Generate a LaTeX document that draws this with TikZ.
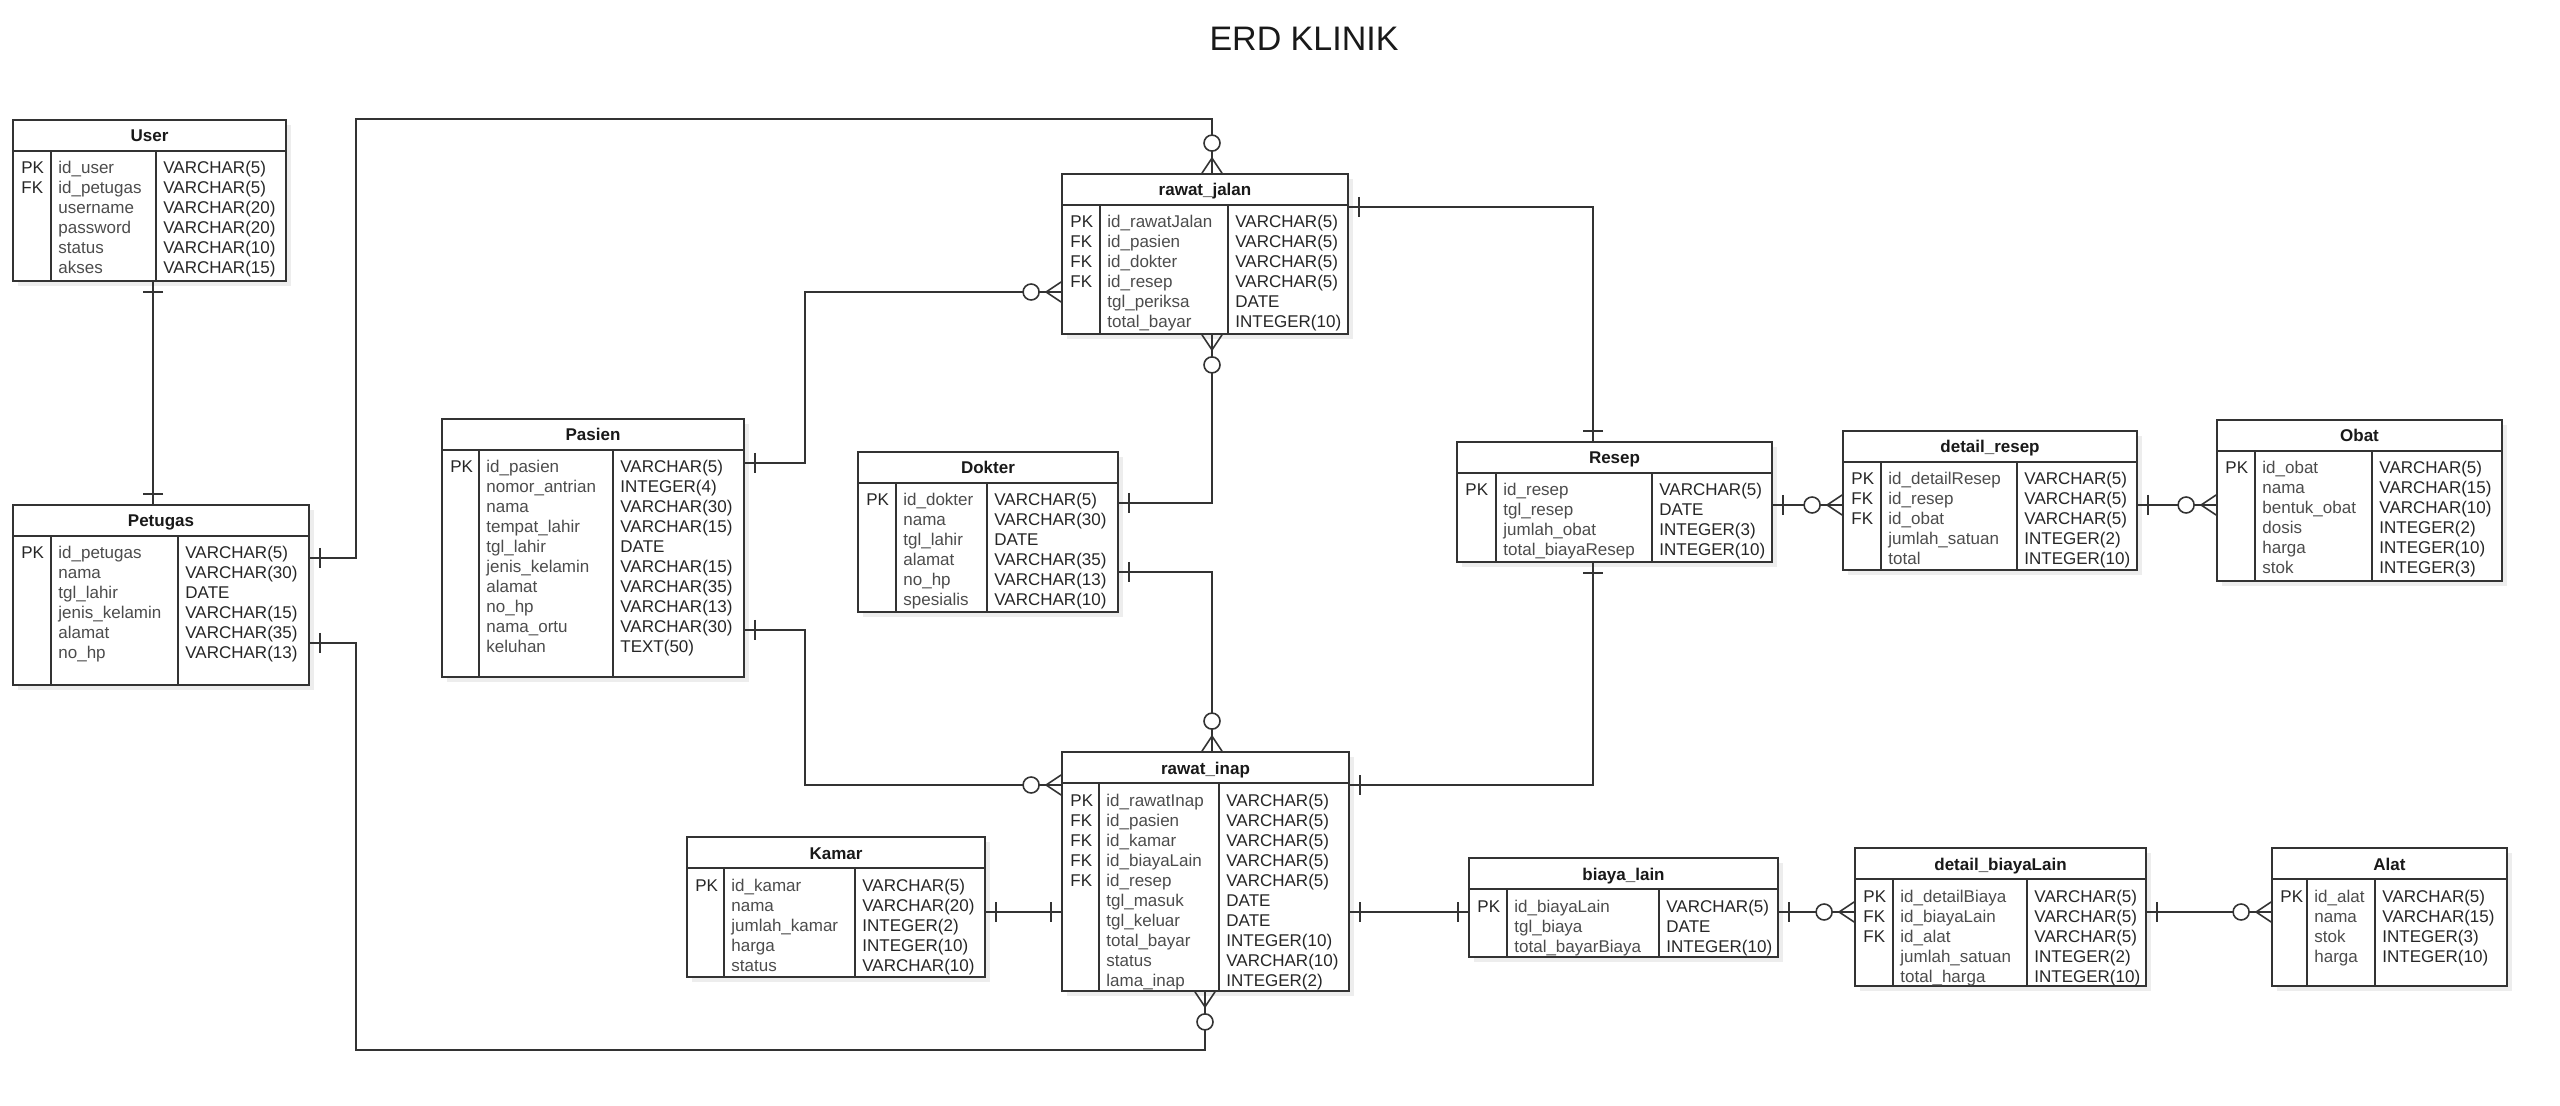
\documentclass[tikz,border=0pt]{standalone}
\usepackage{fontspec}
\setmainfont{Liberation Sans}
\usepackage{tikz}
\usetikzlibrary{fit,decorations.markings}
\definecolor{erdline}{rgb}{0.2,0.2,0.2}
\definecolor{erdtext}{rgb}{0.3,0.3,0.3}
\newcommand{\cellfont}{\fontsize{8.5}{10}\selectfont}

\tikzset{
  tbox/.style={draw=erdline, fill=white, line width=0.9pt, inner sep=0},
  tline/.style={draw=erdline, line width=0.9pt},
  tshadow/.style={fill=black!7},
  thead/.style={anchor=base, inner sep=0, font=\cellfont\bfseries, text=black!90},
  tkey/.style={anchor=base west, inner sep=0, font=\cellfont, text=black!85},
  tname/.style={anchor=base west, inner sep=0, font=\cellfont, text=erdtext},
  ttype/.style={anchor=base west, inner sep=0, font=\cellfont, text=black!85},
  relmark/.style={draw=erdline, line width=0.8pt},
  rel/.style={draw=erdline, line width=0.8pt},
  one start/.style={postaction={decorate, decoration={markings,
      mark=at position 0 with {\draw[relmark] (10,-10) -- (10,10);}}}},
  one end/.style={postaction={decorate, decoration={markings,
      mark=at position 1 with {\draw[relmark] (-10,-10) -- (-10,10);}}}},
  many end/.style={postaction={decorate, decoration={markings,
      mark=at position 1 with {\draw[relmark] (0,-10) -- (-15,0) -- (0,10) (-15,0) -- (0,0);
        \draw[relmark, fill=white] (-30,0) circle[radius=8];}}}},
}

% table: name, top left, bottom right, column lines, title, rows
\newcommand{\erdtable}[9]{%
  \fill[tshadow] (#2+5,#3+5) rectangle (#4+5,#5+5);
  \node[tbox, fit={(#2,#3) (#4,#5)}] (#1) {};
  \draw[tline] (#2,#3+31) -- (#4,#3+31);
  \draw[tline] (#6,#3+31) -- (#6,#5) (#7,#3+31) -- (#7,#5);
  \node[thead] (#1-title) at ({(#2+#4)/2},#3+22) {#8};
  \foreach \ky/\nm/\ty [count=\i from 0] in {#9}{
    \node[tkey] (#1-k\i) at (#2+8,#3+54+20*\i) {\ky};
    \node[tname] (#1-n\i) at (#6+7,#3+54+20*\i) {\nm};
    \node[ttype] (#1-t\i) at (#7+7,#3+54+20*\i) {\ty};
  }
}

\begin{document}
\begin{tikzpicture}[x=0.5pt,y=-0.5pt]
  \fill[white] (0,0) rectangle (2560,1106);
  \useasboundingbox (0,0) rectangle (2560,1106);
  % title
  \node[font=\fontsize{17}{20}\selectfont, text=black!90] (title) at (1304,39) {ERD KLINIK};
  % left side
  \erdtable{user}{13}{120}{286}{281}{51}{156}{User}{PK/id\_user/VARCHAR(5), FK/id\_petugas/VARCHAR(5), {}/username/VARCHAR(20), {}/password/VARCHAR(20), {}/status/VARCHAR(10), {}/akses/VARCHAR(15)}
  \erdtable{petugas}{13}{505}{309}{685}{51}{178}{Petugas}{PK/id\_petugas/VARCHAR(5), {}/nama/VARCHAR(30), {}/tgl\_lahir/DATE, {}/jenis\_kelamin/VARCHAR(15), {}/alamat/VARCHAR(35), {}/no\_hp/VARCHAR(13)}
  \erdtable{pasien}{442}{419}{744}{677}{479}{613}{Pasien}{PK/id\_pasien/VARCHAR(5), {}/nomor\_antrian/INTEGER(4), {}/nama/VARCHAR(30), {}/tempat\_lahir/VARCHAR(15), {}/tgl\_lahir/DATE, {}/jenis\_kelamin/VARCHAR(15), {}/alamat/VARCHAR(35), {}/no\_hp/VARCHAR(13), {}/nama\_ortu/VARCHAR(30), {}/keluhan/TEXT(50)}
  \erdtable{dokter}{858}{452}{1118}{612}{896}{987}{Dokter}{PK/id\_dokter/VARCHAR(5), {}/nama/VARCHAR(30), {}/tgl\_lahir/DATE, {}/alamat/VARCHAR(35), {}/no\_hp/VARCHAR(13), {}/spesialis/VARCHAR(10)}
  \erdtable{kamar}{687}{837}{985}{977}{724}{855}{Kamar}{PK/id\_kamar/VARCHAR(5), {}/nama/VARCHAR(20), {}/jumlah\_kamar/INTEGER(2), {}/harga/INTEGER(10), {}/status/VARCHAR(10)}
  % middle
  \erdtable{rjalan}{1062}{174}{1348}{334}{1100}{1228}{rawat\_jalan}{PK/id\_rawatJalan/VARCHAR(5), FK/id\_pasien/VARCHAR(5), FK/id\_dokter/VARCHAR(5), FK/id\_resep/VARCHAR(5), {}/tgl\_periksa/DATE, {}/total\_bayar/INTEGER(10)}
  \erdtable{rinap}{1062}{752}{1349}{991}{1099}{1219}{rawat\_inap}{PK/id\_rawatInap/VARCHAR(5), FK/id\_pasien/VARCHAR(5), FK/id\_kamar/VARCHAR(5), FK/id\_biayaLain/VARCHAR(5), FK/id\_resep/VARCHAR(5), {}/tgl\_masuk/DATE, {}/tgl\_keluar/DATE, {}/total\_bayar/INTEGER(10), {}/status/VARCHAR(10), {}/lama\_inap/INTEGER(2)}
  % right side
  \erdtable{resep}{1457}{442}{1772}{562}{1496}{1652}{Resep}{PK/id\_resep/VARCHAR(5), {}/tgl\_resep/DATE, {}/jumlah\_obat/INTEGER(3), {}/total\_biayaResep/INTEGER(10)}
  \erdtable{dresep}{1843}{431}{2137}{570}{1881}{2017}{detail\_resep}{PK/id\_detailResep/VARCHAR(5), FK/id\_resep/VARCHAR(5), FK/id\_obat/VARCHAR(5), {}/jumlah\_satuan/INTEGER(2), {}/total/INTEGER(10)}
  \erdtable{obat}{2217}{420}{2502}{581}{2255}{2372}{Obat}{PK/id\_obat/VARCHAR(5), {}/nama/VARCHAR(15), {}/bentuk\_obat/VARCHAR(10), {}/dosis/INTEGER(2), {}/harga/INTEGER(10), {}/stok/INTEGER(3)}
  \erdtable{biaya}{1469}{858}{1778}{957}{1507}{1659}{biaya\_lain}{PK/id\_biayaLain/VARCHAR(5), {}/tgl\_biaya/DATE, {}/total\_bayarBiaya/INTEGER(10)}
  \erdtable{dbiaya}{1855}{848}{2146}{986}{1893}{2027}{detail\_biayaLain}{PK/id\_detailBiaya/VARCHAR(5), FK/id\_biayaLain/VARCHAR(5), FK/id\_alat/VARCHAR(5), {}/jumlah\_satuan/INTEGER(2), {}/total\_harga/INTEGER(10)}
  \erdtable{alat}{2272}{848}{2507}{986}{2307}{2375}{Alat}{PK/id\_alat/VARCHAR(5), {}/nama/VARCHAR(15), {}/stok/INTEGER(3), {}/harga/INTEGER(10)}
  % relations
  \draw[rel, one start, one end] (user.south -| 153,0) -- (petugas.north -| 153,0);
  \draw[rel, one start, many end] (petugas.east |- 0,558) -| (356,119) -| (rjalan.north -| 1212,0);
  \draw[rel, one start, many end] (petugas.east |- 0,643) -| (356,1050) -| (rinap.south -| 1205,0);
  \draw[rel, one start, many end] (pasien.east |- 0,463) -| (805,292) -- (rjalan.west |- 0,292);
  \draw[rel, one start, many end] (pasien.east |- 0,630) -| (805,785) -- (rinap.west |- 0,785);
  \draw[rel, one start, many end] (dokter.east |- 0,503) -| (rjalan.south -| 1212,0);
  \draw[rel, one start, many end] (dokter.east |- 0,572) -| (rinap.north -| 1212,0);
  \draw[rel, one start, one end] (rjalan.east |- 0,207) -| (resep.north -| 1593,0);
  \draw[rel, one start, one end] (rinap.east |- 0,785) -| (resep.south -| 1593,0);
  \draw[rel, one start, one end] (kamar.east |- 0,912) -- (rinap.west |- 0,912);
  \draw[rel, one start, one end] (rinap.east |- 0,912) -- (biaya.west |- 0,912);
  \draw[rel, one start, many end] (resep.east |- 0,505) -- (dresep.west |- 0,505);
  \draw[rel, one start, many end] (dresep.east |- 0,505) -- (obat.west |- 0,505);
  \draw[rel, one start, many end] (biaya.east |- 0,912) -- (dbiaya.west |- 0,912);
  \draw[rel, one start, many end] (dbiaya.east |- 0,912) -- (alat.west |- 0,912);
\end{tikzpicture}
\end{document}
